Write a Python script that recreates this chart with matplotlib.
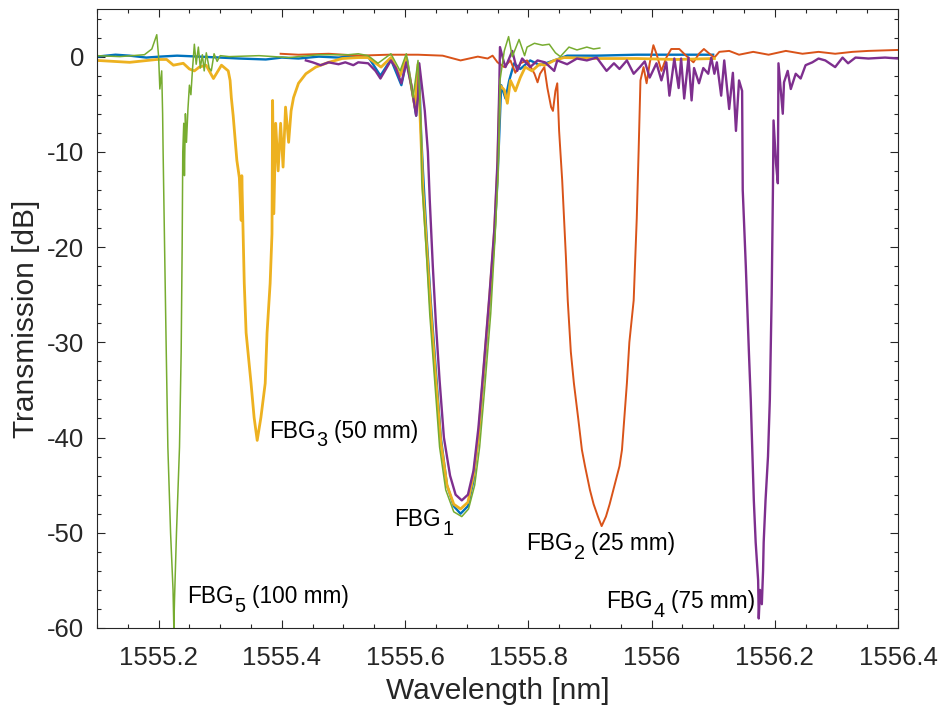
import matplotlib
matplotlib.use("Agg")
import matplotlib.pyplot as plt
from matplotlib.ticker import MultipleLocator, FixedLocator
from matplotlib.transforms import offset_copy

plt.rcParams["font.family"] = ["Liberation Sans", "DejaVu Sans"]
plt.rcParams["axes.unicode_minus"] = False

# MATLAB default colour order: FBG1 blue, FBG2 red, FBG3 yellow, FBG4 purple, FBG5 green
COLORS = ["#0072BD", "#D95319", "#EDB120", "#7E2F8E", "#77AC30"]
WIDTHS = [1.7, 1.4, 2.0, 1.7, 1.1]

# --- FBG1 (blue) ---
wl1 = [1555.100, 1555.130, 1555.153, 1555.180, 1555.202, 1555.230, 1555.266, 1555.300, 1555.331,
       1555.374, 1555.400, 1555.427, 1555.460, 1555.492, 1555.520, 1555.540, 1555.560, 1555.577,
       1555.594, 1555.603, 1555.618, 1555.623, 1555.626, 1555.629, 1555.635, 1555.642, 1555.650,
       1555.658, 1555.668, 1555.679, 1555.690, 1555.702, 1555.711, 1555.719, 1555.727, 1555.737,
       1555.745, 1555.750, 1555.753, 1555.756, 1555.763, 1555.769, 1555.777, 1555.787, 1555.803,
       1555.819, 1555.842, 1555.863, 1555.911, 1555.976, 1556.040, 1556.100]
tr1 = [0.0, 0.2, 0.1, -0.1, 0.0, 0.1, 0.0, -0.1, -0.2,
       -0.3, -0.1, -0.2, 0.0, -0.1, 0.1, 0.0, -2.0, -0.3,
       -3.0, -0.2, -6.2, -2.0, -8.0, -12.0, -19.0, -26.0, -33.0,
       -40.0, -45.0, -47.2, -48.0, -47.2, -44.5, -40.0, -34.0, -26.0,
       -19.0, -13.0, -8.0, -3.0, -4.4, -2.5, -0.7, -1.3, -0.4,
       -0.9, -0.4, 0.1, 0.1, 0.2, 0.2, 0.2]

# --- FBG2 (red, 25 mm) ---
wl2 = [1555.398, 1555.427, 1555.476, 1555.524, 1555.573, 1555.621, 1555.661, 1555.690, 1555.718,
       1555.734, 1555.742, 1555.750, 1555.761, 1555.771, 1555.779, 1555.787, 1555.798, 1555.810,
       1555.815, 1555.819, 1555.826, 1555.831, 1555.837, 1555.840, 1555.844, 1555.847, 1555.850,
       1555.852, 1555.855, 1555.858, 1555.861, 1555.864, 1555.869, 1555.874, 1555.881, 1555.887,
       1555.892, 1555.900, 1555.906, 1555.913, 1555.919, 1555.926, 1555.932, 1555.940, 1555.948,
       1555.952, 1555.960, 1555.964, 1555.971, 1555.976, 1555.979, 1555.981, 1555.982, 1555.987,
       1555.992, 1555.997, 1556.003, 1556.008, 1556.016, 1556.024, 1556.032, 1556.045, 1556.056,
       1556.068, 1556.077, 1556.085, 1556.094, 1556.102, 1556.110, 1556.126, 1556.142, 1556.165,
       1556.190, 1556.218, 1556.245, 1556.271, 1556.298, 1556.326, 1556.352, 1556.400]
tr2 = [0.3, 0.2, 0.3, 0.1, 0.2, 0.2, 0.1, -0.4, 0.0,
       -0.2, 0.1, -0.6, -1.1, -0.4, -1.7, -0.7, -0.4, -1.8,
       -2.7, -1.8, -1.1, -3.3, -5.3, -5.7, -3.6, -2.8, -7.8,
       -9.9, -13.0, -17.0, -21.0, -25.6, -31.0, -34.3, -38.0, -41.3,
       -43.0, -45.5, -47.0, -48.3, -49.3, -48.3, -47.0, -45.0, -43.0,
       -41.3, -34.3, -30.0, -25.6, -17.0, -10.0, -5.0, -2.5, -1.1,
       -2.8, -0.7, 1.2, 0.3, -1.5, -0.1, 0.8, 0.8, 0.1,
       -0.6, 0.3, 0.8, 0.3, -0.1, 0.5, 0.6, 0.2, 0.5,
       0.2, 0.6, 0.3, 0.5, 0.3, 0.5, 0.6, 0.7]

# --- FBG3 (yellow, 50 mm) ---
wl3 = [1555.100, 1555.153, 1555.197, 1555.213, 1555.224, 1555.240, 1555.250, 1555.258, 1555.266,
       1555.277, 1555.289, 1555.302, 1555.313, 1555.316, 1555.318, 1555.321, 1555.327, 1555.331,
       1555.334, 1555.335, 1555.339, 1555.342, 1555.350, 1555.355, 1555.360, 1555.366, 1555.373,
       1555.376, 1555.381, 1555.384, 1555.385, 1555.387, 1555.390, 1555.394, 1555.398, 1555.402,
       1555.406, 1555.411, 1555.415, 1555.419, 1555.427, 1555.439, 1555.455, 1555.476, 1555.498,
       1555.524, 1555.540, 1555.561, 1555.577, 1555.592, 1555.602, 1555.616, 1555.621, 1555.626,
       1555.629, 1555.635, 1555.642, 1555.650, 1555.658, 1555.668, 1555.679, 1555.690, 1555.702,
       1555.711, 1555.719, 1555.727, 1555.737, 1555.745, 1555.750, 1555.754, 1555.761, 1555.766,
       1555.771, 1555.779, 1555.787, 1555.795, 1555.806, 1555.818, 1555.827, 1555.842, 1555.858,
       1555.911, 1555.976, 1556.040, 1556.102]
tr3 = [-0.4, -0.6, -0.3, -0.3, -0.9, -0.7, -1.3, -1.5, -1.1,
       -0.9, -2.3, -0.9, -1.5, -2.5, -4.3, -6.2, -10.9, -12.7,
       -17.2, -12.5, -23.8, -29.0, -34.3, -37.9, -40.3, -37.9, -34.3,
       -29.0, -23.8, -18.6, -4.6, -16.5, -7.0, -12.0, -7.0, -11.6,
       -5.3, -9.0, -5.7, -4.3, -2.8, -1.8, -1.1, -0.6, -0.2,
       -0.1, -0.1, -1.1, -0.1, -2.0, -0.1, -5.3, -0.8, -9.0,
       -14.0, -20.0, -27.0, -34.0, -40.5, -45.0, -47.0, -47.5, -46.8,
       -44.0, -40.0, -33.5, -25.5, -18.5, -12.0, -3.0, -3.5, -4.9,
       -2.5, -3.6, -2.2, -1.1, -1.5, -0.8, -0.9, -0.4, -0.1,
       -0.2, -0.2, -0.3, -0.2]

# --- FBG4 (purple, 75 mm) ---
wl4 = [1555.439, 1555.450, 1555.463, 1555.476, 1555.492, 1555.503, 1555.516, 1555.524, 1555.540,
       1555.552, 1555.560, 1555.569, 1555.577, 1555.585, 1555.594, 1555.602, 1555.610, 1555.618,
       1555.621, 1555.623, 1555.632, 1555.637, 1555.640, 1555.645, 1555.650, 1555.656, 1555.663,
       1555.673, 1555.682, 1555.692, 1555.702, 1555.711, 1555.719, 1555.727, 1555.737, 1555.745,
       1555.750, 1555.753, 1555.754, 1555.760, 1555.763, 1555.774, 1555.782, 1555.790, 1555.803,
       1555.815, 1555.827, 1555.842, 1555.847, 1555.863, 1555.879, 1555.895, 1555.911, 1555.927,
       1555.939, 1555.948, 1555.960, 1555.971, 1555.981, 1555.989, 1555.997, 1556.008, 1556.016,
       1556.024, 1556.029, 1556.037, 1556.044, 1556.048, 1556.053, 1556.060, 1556.065, 1556.069,
       1556.077, 1556.084, 1556.092, 1556.097, 1556.102, 1556.106, 1556.113, 1556.118, 1556.126,
       1556.132, 1556.137, 1556.142, 1556.147, 1556.148, 1556.153, 1556.158, 1556.161, 1556.166,
       1556.169, 1556.173, 1556.174, 1556.176, 1556.179, 1556.181, 1556.182, 1556.185, 1556.189,
       1556.192, 1556.195, 1556.197, 1556.198, 1556.202, 1556.205, 1556.206, 1556.213, 1556.215,
       1556.221, 1556.226, 1556.234, 1556.242, 1556.250, 1556.261, 1556.271, 1556.282, 1556.298,
       1556.310, 1556.319, 1556.331, 1556.352, 1556.379, 1556.400]
tr4 = [-0.4, -0.6, -0.9, -0.6, -0.8, -0.6, -0.9, -0.6, -0.7,
       -1.5, -2.3, -1.3, -0.4, -1.2, -2.8, -0.6, -3.0, -6.2,
       -4.2, -0.7, -5.7, -10.0, -15.0, -22.0, -28.0, -34.0, -40.0,
       -44.0, -46.0, -46.6, -46.0, -43.5, -39.0, -33.0, -25.0, -18.0,
       -11.0, -3.0, 1.0, -0.5, -1.1, 0.6, -1.5, -0.2, -1.1,
       -0.4, -0.6, -1.5, -0.4, -0.8, -0.2, -0.4, -0.1, -1.5,
       -0.7, -1.3, -0.4, -1.8, -1.1, -0.5, -2.2, -0.7, -2.5,
       -0.6, -4.1, -0.2, -3.3, -0.2, -4.4, -0.1, -4.6, -1.2,
       -2.8, -1.2, -1.8, -0.1, -1.8, -0.6, -4.1, -0.4, -5.5,
       -1.7, -7.8, -2.5, -3.6, -14.0, -22.0, -31.0, -36.0, -46.6,
       -51.0, -55.0, -59.0, -56.0, -57.5, -54.0, -51.0, -46.6, -42.0,
       -36.0, -25.0, -14.0, -6.7, -11.2, -13.3, -0.7, -6.0, -2.7,
       -1.5, -3.4, -1.8, -2.3, -0.9, -0.6, -0.2, -0.4, -1.1,
       -0.1, -0.7, -0.1, -0.2, -0.1, -0.2]

# --- FBG5 (green, 100 mm) ---
wl5 = [1555.100, 1555.137, 1555.177, 1555.189, 1555.197, 1555.200, 1555.202, 1555.205, 1555.2065,
       1555.2073, 1555.2097, 1555.2124, 1555.2150, 1555.2194, 1555.2234, 1555.2247, 1555.2258,
       1555.2290, 1555.2339, 1555.2366, 1555.2382, 1555.2392, 1555.2408, 1555.2419, 1555.2435,
       1555.2452, 1555.2476, 1555.2500, 1555.2524, 1555.2548, 1555.2580, 1555.2610, 1555.2645,
       1555.2677, 1555.2710, 1555.2740, 1555.2774, 1555.2820, 1555.2855, 1555.2900, 1555.2950,
       1555.3000, 1555.3145, 1555.363, 1555.411, 1555.460, 1555.508, 1555.524, 1555.540, 1555.556,
       1555.577, 1555.592, 1555.602, 1555.613, 1555.621, 1555.626, 1555.627, 1555.634, 1555.640,
       1555.648, 1555.656, 1555.666, 1555.679, 1555.692, 1555.703, 1555.713, 1555.721, 1555.729,
       1555.739, 1555.746, 1555.751, 1555.754, 1555.761, 1555.768, 1555.774, 1555.785, 1555.794,
       1555.798, 1555.810, 1555.823, 1555.834, 1555.844, 1555.852, 1555.866, 1555.879, 1555.895,
       1555.906, 1555.916]
tr5 = [0.1, 0.0, 0.2, 0.8, 2.3, 0.0, -3.4, -1.5, -6.0,
       -10.0, -20.0, -31.0, -41.0, -50.0, -56.0, -60.0, -57.0,
       -50.0, -41.0, -31.0, -20.0, -10.0, -7.0, -12.5, -6.0,
       -9.0, -5.5, -3.0, -4.0, -1.5, 1.3, -0.8, 1.0,
       -1.2, 0.2, -1.5, 0.4, -1.2, -1.5, 0.3, -0.5,
       0.1, 0.0, 0.1, -0.1, 0.2, 0.2, 0.3, 0.1, -0.7,
       0.3, -1.5, 0.3, -4.3, -0.4, -7.8, -13.0, -20.0, -27.0,
       -34.0, -41.0, -45.5, -47.8, -48.3, -47.5, -45.0, -41.0, -35.0,
       -27.0, -19.0, -12.0, -2.5, 0.6, 2.1, 0.0, 1.8, 0.1,
       1.0, 1.4, 1.2, 1.3, 0.4, 0.0, 1.0, 0.7, 1.0,
       0.8, 0.9]

SERIES = [(wl1, tr1), (wl2, tr2), (wl3, tr3), (wl4, tr4), (wl5, tr5)]

# annotation pieces: name, subscript, remainder; anchor = left/baseline in data units
LABEL_SUB = ["1", "2", "3", "4", "5"]
LABEL_REST = ["", "(25 mm)", "(50 mm)", "(75 mm)", "(100 mm)"]
LABEL_X = [1555.583, 1555.796, 1555.379, 1555.926, 1555.246]
LABEL_Y = [-49.3, -51.8, -40.0, -57.9, -57.4]

XTICKS = [1555.2, 1555.4, 1555.6, 1555.8, 1556.0, 1556.2, 1556.4]
XTICKLABELS = ["1555.2", "1555.4", "1555.6", "1555.8", "1556", "1556.2", "1556.4"]
YTICKS = [-60, -50, -40, -30, -20, -10, 0]

AX_GRAY = "#262626"
FS_NOTE = 16.3

fig = plt.figure(figsize=(9.41, 7.08), dpi=100)
ax = fig.add_axes([97 / 941, 80 / 708, 801 / 941, 619 / 708])

for (x, y), c, lw in zip(SERIES, COLORS, WIDTHS):
    ax.plot(x, y, color=c, lw=lw)

# MATLAB-style labels: subscript nearly full size, dropped below the baseline
renderer = fig.canvas.get_renderer()
px2pt = 72 / fig.dpi


def piece(x, y, s, dx, dy, size):
    tr = offset_copy(ax.transData, fig=fig, x=dx, y=dy, units="points")
    t = ax.text(x, y, s, transform=tr, fontsize=size, va="baseline", ha="left", color="black")
    return t.get_window_extent(renderer).width * px2pt


for sub, rest, x, y in zip(LABEL_SUB, LABEL_REST, LABEL_X, LABEL_Y):
    w0 = piece(x, y, "FBG", 0, 0, FS_NOTE)
    w1 = piece(x, y, sub, w0 + 0.8, -6.3, FS_NOTE * 0.88)
    if rest:
        piece(x, y, rest, w0 + w1 + 5.5, 0, FS_NOTE)

ax.set_xlim(1555.1, 1556.4)
ax.set_ylim(-60, 5)
ax.xaxis.set_major_locator(FixedLocator(XTICKS))
ax.set_xticklabels(XTICKLABELS)
ax.xaxis.set_minor_locator(MultipleLocator(0.05))
ax.yaxis.set_major_locator(FixedLocator(YTICKS))
ax.yaxis.set_minor_locator(MultipleLocator(2))

ax.tick_params(which="both", direction="in", top=True, right=True, colors=AX_GRAY,
               labelsize=18.5, width=0.8)
ax.tick_params(which="major", length=6)
ax.tick_params(which="minor", length=3)
ax.tick_params(axis="x", which="major", pad=13)
ax.tick_params(axis="y", which="major", pad=9)
for sp in ax.spines.values():
    sp.set_color(AX_GRAY)
    sp.set_linewidth(0.8)

ax.set_xlabel("Wavelength [nm]", fontsize=21.5, color=AX_GRAY, labelpad=5)
ax.set_ylabel("Transmission [dB]", fontsize=21.5, color=AX_GRAY, labelpad=5)

fig.savefig("out.png", dpi=100)
